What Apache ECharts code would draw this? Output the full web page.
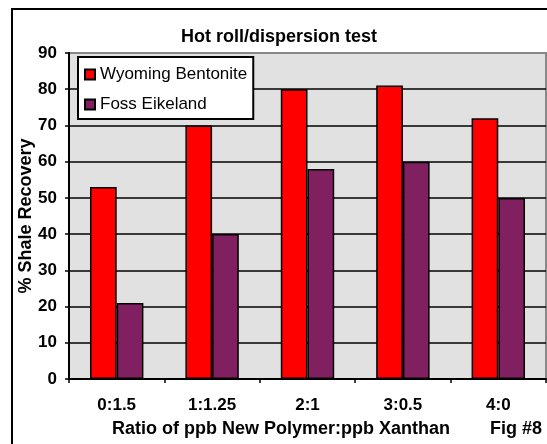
<!DOCTYPE html>
<html>
<head>
<meta charset="utf-8">
<script src="https://cdn.jsdelivr.net/npm/echarts@6/dist/echarts.min.js"></script>
<style>
html,body{margin:0;padding:0;background:#fff;}
#chart{width:547px;height:444px;}
</style>
</head>
<body>
<div id="chart"></div>
<script>
const categories = ['0:1.5', '1:1.25', '2:1', '3:0.5', '4:0'];
const wyomingBentonite = [53, 70, 80, 81, 72];
const fossEikeland = [21, 40, 58, 60, 50];
const yTicks = {min: 0, max: 90, interval: 10};

const FONT = '"Liberation Sans", Arial, sans-serif';
const chart = echarts.init(document.getElementById('chart'), null, {renderer: 'canvas'});
chart.setOption({
  animation: false,
  backgroundColor: '#ffffff',
  textStyle: {fontFamily: FONT, color: '#000'},
  title: {
    text: 'Hot roll/dispersion test',
    left: 181, top: 28, padding: 0,
    textStyle: {fontFamily: FONT, fontSize: 18, fontWeight: 'bold', color: '#000'}
  },
  graphic: [
    {type: 'rect', silent: true, z: -10,
     shape: {x: 12, y: 9, width: 600, height: 500},
     style: {fill: 'none', stroke: '#000', lineWidth: 2}},
    {type: 'text', silent: true, x: 490, y: 429,
     style: {text: 'Fig #8', fontFamily: FONT, fontSize: 18, fontWeight: 'bold', fill: '#000', verticalAlign: 'middle'}}
  ],
  legend: {
    orient: 'vertical',
    left: 78, top: 57,
    padding: [9, 6, 6, 6],
    itemGap: 13,
    itemWidth: 10, itemHeight: 10,
    backgroundColor: '#fff',
    borderColor: '#000', borderWidth: 2,
    textStyle: {fontFamily: FONT, fontSize: 17, color: '#000'},
    data: [
      {name: 'Wyoming Bentonite', icon: 'rect'},
      {name: 'Foss Eikeland', icon: 'rect'}
    ]
  },
  grid: {
    left: 69, right: 1, top: 53, bottom: 65,
    show: true, backgroundColor: '#e1e1e1', borderColor: '#888', borderWidth: 2,
    containLabel: false
  },
  xAxis: {
    type: 'category',
    data: categories,
    name: 'Ratio of ppb New Polymer:ppb Xanthan',
    nameLocation: 'middle',
    nameGap: 41,
    nameMoveOverlap: false,
    nameTextStyle: {fontFamily: FONT, fontSize: 18, fontWeight: 'bold', color: '#000', padding: [0, 53, 0, 0]},
    axisLine: {lineStyle: {color: '#000', width: 2}},
    axisTick: {show: true, alignWithLabel: false, length: 4, lineStyle: {color: '#000', width: 1.5}},
    axisLabel: {interval: 0, margin: 18, fontFamily: FONT, fontSize: 17, fontWeight: 'bold', color: '#000'},
    splitLine: {show: false}
  },
  yAxis: {
    type: 'value',
    min: yTicks.min, max: yTicks.max, interval: yTicks.interval,
    name: '% Shale Recovery',
    nameLocation: 'middle',
    nameGap: 34,
    nameMoveOverlap: false,
    nameTextStyle: {fontFamily: FONT, fontSize: 18, fontWeight: 'bold', color: '#000'},
    axisLine: {show: true, lineStyle: {color: '#000', width: 2}},
    axisTick: {show: true, length: 4, lineStyle: {color: '#000', width: 1.5}},
    axisLabel: {margin: 12, fontFamily: FONT, fontSize: 17, fontWeight: 'bold', color: '#000'},
    splitLine: {show: true, showMaxLine: false, showMinLine: false, lineStyle: {color: '#000', width: 1.5}}
  },
  series: [
    {
      name: 'Wyoming Bentonite', type: 'bar', data: wyomingBentonite,
      barGap: '0%', barCategoryGap: '44%',
      itemStyle: {color: '#ff0000', borderColor: '#000', borderWidth: 1.5}
    },
    {
      name: 'Foss Eikeland', type: 'bar', data: fossEikeland,
      barGap: '0%', barCategoryGap: '44%',
      itemStyle: {color: '#802060', borderColor: '#000', borderWidth: 1.5}
    }
  ]
});
</script>
</body>
</html>
